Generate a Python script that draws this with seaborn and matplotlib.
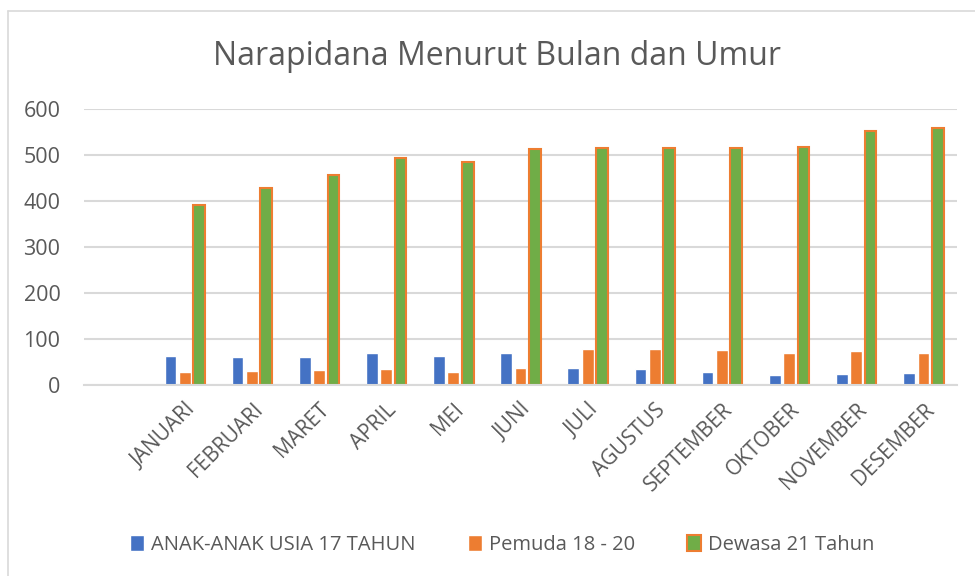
import matplotlib
matplotlib.use("Agg")
import matplotlib.pyplot as plt
import pandas as pd
import seaborn as sns

bulan = ['JANUARI', 'FEBRUARI', 'MARET', 'APRIL', 'MEI', 'JUNI', 'JULI',
         'AGUSTUS', 'SEPTEMBER', 'OKTOBER', 'NOVEMBER', 'DESEMBER']
anak = [64, 62, 61, 70, 64, 71, 38, 35, 28, 23, 25, 26]
pemuda = [28, 31, 33, 35, 30, 38, 79, 78, 77, 70, 75, 70]
dewasa = [393, 429, 458, 495, 486, 515, 516, 516, 516, 519, 554, 559]
kelompok = ['ANAK-ANAK USIA 17 TAHUN', 'Pemuda 18 - 20', 'Dewasa 21 Tahun']
warna = ['#4472C4', '#ED7D31', '#70AD47']

df = pd.DataFrame({
    'bulan': bulan * 3,
    'jumlah': anak + pemuda + dewasa,
    'kelompok': [kelompok[0]] * 12 + [kelompok[1]] * 12 + [kelompok[2]] * 12,
})

sns.set_style("white")
plt.rcParams['font.family'] = ['Open Sans', 'DejaVu Sans']
abu = '#595959'

fig = plt.figure(figsize=(9.75, 5.76), dpi=100)
ax = fig.add_axes([0.0862, 0.331, 0.8953, 0.479])

sns.barplot(data=df, x='bulan', y='jumlah', hue='kelompok', order=bulan,
            hue_order=kelompok, palette=warna, width=0.64, gap=0.18,
            saturation=1, legend=False, ax=ax)

# green bars get an orange outline, like the original
for bar in ax.containers[2]:
    bar.set_edgecolor('#ED7D31')
    bar.set_linewidth(1.5)

ax.set_xlim(-1.5, 11.5)
ax.set_ylim(0, 600)
ax.set_yticks(range(0, 601, 100))
ax.set(xlabel='', ylabel='')
ax.yaxis.grid(True, color='#D9D9D9', linewidth=1.5)
ax.set_axisbelow(True)
for side in ['left', 'right', 'top']:
    ax.spines[side].set_visible(False)
ax.spines['bottom'].set_color('#D9D9D9')
ax.spines['bottom'].set_linewidth(1.5)
ax.tick_params(axis='y', length=0, pad=17, labelsize=15.5, labelcolor=abu)
ax.tick_params(axis='x', length=0, pad=10, labelsize=15, labelcolor=abu)
plt.setp(ax.get_xticklabels(), rotation=45, ha='right', rotation_mode='anchor')

fig.text(0.51, 0.902, 'Narapidana Menurut Bulan dan Umur', ha='center',
         va='center', fontsize=23, color=abu)

fig.legend(ax.containers, kelompok, loc='center', bbox_to_anchor=(0.515, 0.054),
           ncol=3, frameon=False, fontsize=14.5, labelcolor=abu,
           handlelength=0.7, handleheight=0.8, handletextpad=0.35,
           columnspacing=2.6)

# light border of the chart area (left and top edges visible)
fig.add_artist(plt.Line2D([8 / 975, 8 / 975], [0, 1 - 11 / 576],
                          color='#D9D9D9', linewidth=1.2))
fig.add_artist(plt.Line2D([8 / 975, 1], [1 - 11 / 576, 1 - 11 / 576],
                          color='#D9D9D9', linewidth=1.2))

fig.savefig('out.png', dpi=100)
